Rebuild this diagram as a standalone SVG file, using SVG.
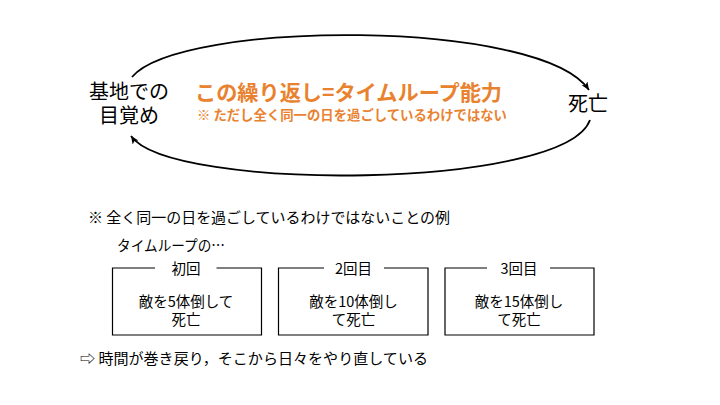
<svg xmlns="http://www.w3.org/2000/svg" width="720" height="405" viewBox="0 0 720 405">
  <style>
    .t { font-family: "Noto Sans CJK JP", "Liberation Sans", sans-serif; fill: #000; }
    .big { font-size: 20px; }
    .mid { font-size: 14.5px; }
    .c { text-anchor: middle; }
    .or { fill: #E9822F; font-weight: bold; }
    .arc { fill: none; stroke: #000; stroke-width: 1.8; }
    .box { fill: none; stroke: #000; stroke-width: 1.2; }
  </style>
  <defs>
    <marker id="ah" markerUnits="userSpaceOnUse" markerWidth="10" markerHeight="10" refX="8" refY="3.5" orient="auto">
      <path d="M0,0 L8,3.5 L0,7 L2,3.5 z" fill="#000"/>
    </marker>
  </defs>
  <rect width="720" height="405" fill="#fff"/>

  <g id="connectors">
    <path class="arc" d="M132,77 C180,20 540,18 589,90" marker-end="url(#ah)"/>
    <path class="arc" d="M590,120 C565,190 170,192 131,136" marker-end="url(#ah)"/>
  </g>

  <g id="wake">
    <text class="t big c" x="129" y="99" font-size="20.5">基地での</text>
    <text class="t big c" x="129" y="123" font-size="20.5">目覚め</text>
  </g>

  <g id="death">
    <text class="t big c" x="588" y="111" font-size="19.5">死亡</text>
  </g>

  <g id="title">
    <text class="t or" x="195" y="100" font-size="21" textLength="307" lengthAdjust="spacingAndGlyphs">この繰り返し=タイムループ能力</text>
    <text class="t or" x="197" y="120" font-size="13.2" textLength="310" lengthAdjust="spacingAndGlyphs">※ ただし全く同一の日を過ごしているわけではない</text>
  </g>

  <g id="note">
    <text class="t mid" x="88" y="223" textLength="362" lengthAdjust="spacingAndGlyphs">※ 全く同一の日を過ごしているわけではないことの例</text>
    <text class="t mid" x="117" y="251" font-size="14" textLength="108" lengthAdjust="spacingAndGlyphs">タイムループの…</text>
  </g>

  <g id="box1">
    <path class="box" d="M155,268 H112.5 V335 H261.5 V268 H216.5"/>
    <text class="t mid c" x="186" y="274">初回</text>
    <text class="t mid c" x="186" y="307">敵を5体倒して</text>
    <text class="t mid c" x="186" y="325">死亡</text>
  </g>

  <g id="box2">
    <path class="box" d="M324,268 H278.5 V335 H428 V268 H384"/>
    <text class="t mid c" x="353.5" y="274">2回目</text>
    <text class="t mid c" x="353.5" y="307">敵を10体倒し</text>
    <text class="t mid c" x="353.5" y="325">て死亡</text>
  </g>

  <g id="box3">
    <path class="box" d="M487,268 H445 V335 H594 V268 H550"/>
    <text class="t mid c" x="519" y="274">3回目</text>
    <text class="t mid c" x="519" y="307">敵を15体倒し</text>
    <text class="t mid c" x="519" y="325">て死亡</text>
  </g>

  <g id="conclusion">
    <text class="t mid" x="80" y="364" textLength="348" lengthAdjust="spacingAndGlyphs">⇨ 時間が巻き戻り，そこから日々をやり直している</text>
  </g>
</svg>
